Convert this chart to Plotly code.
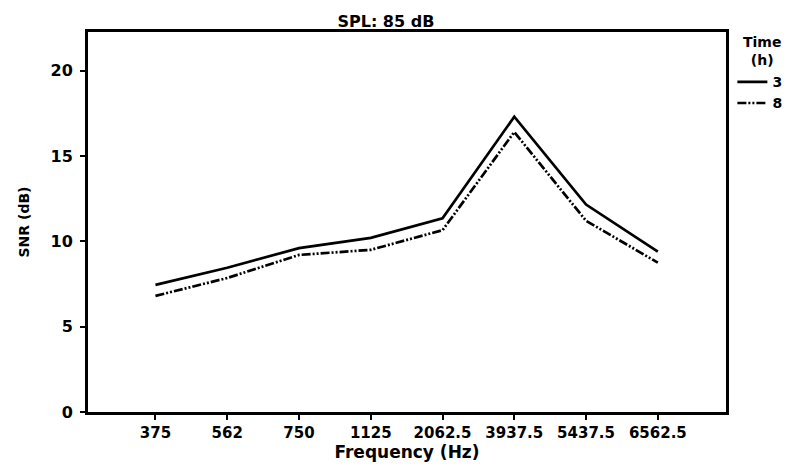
import plotly.graph_objects as go

frequencies = ["375", "562", "750", "1125", "2062.5", "3937.5", "5437.5", "6562.5"]
snr_3h = [7.45, 8.45, 9.6, 10.2, 11.35, 17.3, 12.15, 9.4]
snr_8h = [6.8, 7.85, 9.2, 9.5, 10.65, 16.4, 11.2, 8.75]
series_names = ["3", "8"]
legend_heading = "Time<br>(h)"

FONT = "DejaVu Sans, Liberation Sans, Arial, sans-serif"

fig = go.Figure()
fig.add_trace(go.Scatter(
    x=frequencies, y=snr_3h, mode="lines", name=series_names[0],
    line=dict(color="black", width=2.7),
))
fig.add_trace(go.Scatter(
    x=frequencies, y=snr_8h, mode="lines", name=series_names[1],
    line=dict(color="black", width=2.7, dash="9px,2px,2px,2px,2px,2px"),
))

# legend heading
fig.add_annotation(text=legend_heading, xref="paper", yref="paper",
                   x=1.056, y=0.95, xanchor="center", yanchor="middle", align="center",
                   showarrow=False, font=dict(family=FONT, size=14, weight="bold"))

fig.update_layout(
    width=799, height=469,
    margin=dict(l=88, r=68, t=32, b=43),
    paper_bgcolor="white", plot_bgcolor="white",
    font=dict(family=FONT, size=14, color="black", weight="bold"),
    title=dict(text="SPL: 85 dB", xref="container", x=0.483, xanchor="center",
               yref="container", y=0.955, yanchor="middle",
               font=dict(family=FONT, size=16, weight="bold")),
    showlegend=True,
    legend=dict(
        x=1.01, xanchor="left", y=0.91, yanchor="top",
        xref="paper", yref="paper",
        bgcolor="rgba(0,0,0,0)", borderwidth=0,
        font=dict(family=FONT, size=14, weight="bold"),
        tracegroupgap=0, itemwidth=30,
    ),
    xaxis=dict(
        type="category", range=[-0.94, 7.95],
        showline=True, linecolor="black", linewidth=3, mirror=True,
        ticks="outside", ticklen=5, tickwidth=1.5, tickcolor="black",
        showgrid=False, zeroline=False,
        tickfont=dict(family=FONT, size=15, weight="bold"),
        title=dict(text="Frequency (Hz)", standoff=3,
                   font=dict(family=FONT, size=17, weight="bold")),
    ),
    yaxis=dict(
        range=[0, 22.26], tickvals=[0, 5, 10, 15, 20],
        showline=True, linecolor="black", linewidth=3, mirror=True,
        ticks="outside", ticklen=5, tickwidth=1.5, tickcolor="black",
        ticklabelstandoff=4,
        showgrid=False, zeroline=False,
        tickfont=dict(family=FONT, size=16, weight="bold"),
        title=dict(text="SNR (dB)", standoff=18,
                   font=dict(family=FONT, size=14, weight="bold")),
    ),
)

fig.write_html(
    "out.html",
    config={"displayModeBar": False},
    post_script="document.body.style.margin='0';document.body.style.overflow='hidden';",
)
